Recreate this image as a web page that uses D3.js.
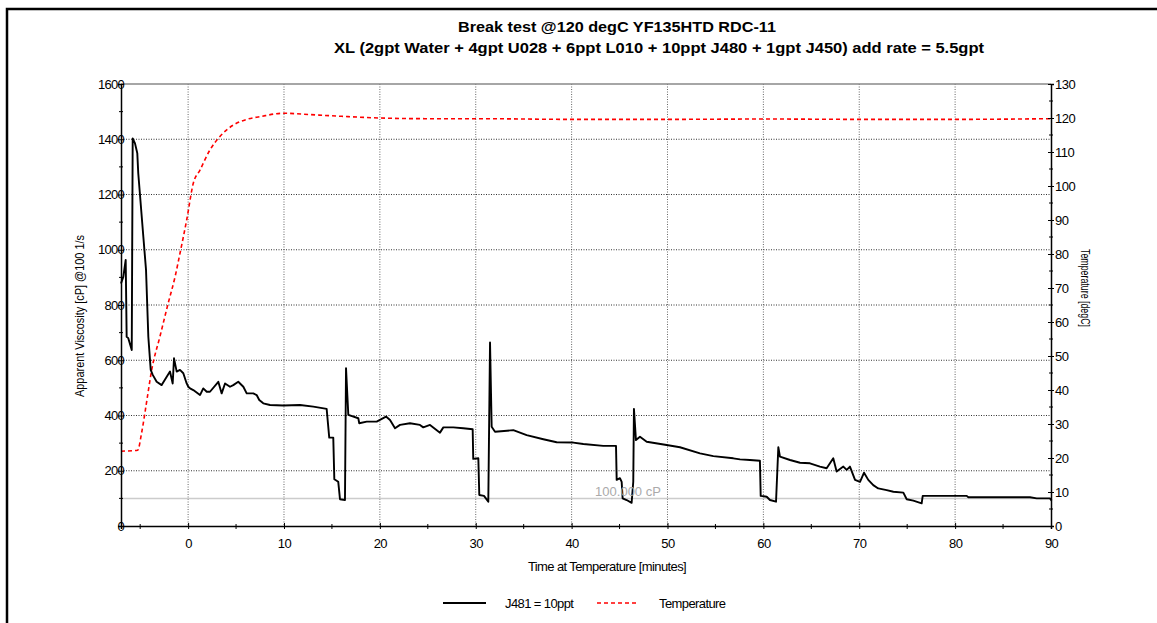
<!DOCTYPE html>
<html><head><meta charset="utf-8">
<script src="https://cdn.jsdelivr.net/npm/d3@7"></script>
<style>
body{margin:0;background:#fff;}
text{font-family:"Liberation Sans",Arial,sans-serif;}
</style></head>
<body><svg id="c" width="1157" height="623"></svg>
<script>
// ---- data ----
const titleLines = ["Break test @120 degC YF135HTD RDC-11",
  "XL (2gpt Water + 4gpt U028 + 6ppt L010 + 10ppt J480 + 1gpt J450) add rate = 5.5gpt"];
const xTicks = [0,10,20,30,40,50,60,70,80,90];
const yLeftTicks = [0,200,400,600,800,1000,1200,1400,1600];
const yRightTicks = [0,10,20,30,40,50,60,70,80,90,100,110,120,130];
const seriesNames = ["J481 = 10ppt","Temperature"];
const refLineValue = 100;
const refLineLabel = "100.000 cP";

// viscosity series [minutes, cP]
const viscTime = [-7,-6.76,-6.51,-6.41,-6.24,-5.88,-5.78,-5.54,-5.3,-5.2,-4.67,-4.39,-4.15,-3.9,-3.69,-3.28,-2.76,-2.23,-1.89,-1.61,-1.47,-1.19,-0.85,-0.5,-0.15,0.02,0.2,0.54,1.24,1.58,1.94,2.28,3.15,3.5,3.85,4.37,4.71,5.23,5.76,6.11,6.8,7.15,7.42,7.84,8.54,9.93,11.67,13.06,14.45,14.72,15.14,15.25,15.66,15.84,16.36,16.47,16.71,17.75,17.85,18.63,19.67,20.64,21.06,21.58,22.1,23.14,24.18,24.53,25.23,26.27,26.62,27.66,28.7,29.68,29.74,30.27,30.37,30.86,31.31,31.49,31.66,32.01,33.92,35.31,37.05,38.44,40.17,41.22,43.3,44.63,44.7,45.04,45.22,45.32,45.74,46.26,46.43,46.5,46.71,47.13,47.83,49.91,51.3,53.39,54.78,56.86,57.56,58.6,59.64,59.72,60.35,60.69,61.32,61.56,61.73,62.78,63.82,64.86,65.9,66.6,67.29,67.64,68.34,68.69,69.03,69.56,70.08,70.5,70.94,71.46,71.98,72.86,73.56,74.6,74.95,75.64,76.51,76.62,81.21,81.38,87.81,88.51,89.89,90.07];
const viscValue = [878,902,963,685,680,637,1403,1385,1349,1277,1047,927,685,565,547,522,510,540,559,516,607,559,565,553,516,504,498,492,474,498,486,486,522,480,516,504,510,522,504,480,480,474,456,444,438,436,438,432,424,320,320,169,160,97,94,571,402,390,372,378,378,396,384,354,366,372,366,357,366,338,357,357,354,350,243,245,112,109,88,664,359,341,347,329,314,303,302,297,290,290,167,173,160,100,94,84,160,424,311,323,305,293,285,263,253,245,241,239,236,109,106,94,88,285,251,239,229,227,215,209,245,197,215,203,215,167,160,193,167,148,136,130,124,121,97,92,82,109,109,104,104,100,100,92];

// temperature series [minutes, degC]
const tempTime = [-7,-5.26,-4.85,-4.3,-3.8,-2.94,-2.07,-1.36,-0.84,-0.15,0.54,1.24,2.28,3.3,4.7,6.1,7.5,9.9,12.7,16,20,25,30,40,50,60,70,80,90];
const tempValue = [22,22.3,27.4,37,45.9,55.7,65.6,73.3,80.3,90,100.8,104.7,110.6,114.5,117.9,119.6,120.4,121.4,121,120.5,120,119.8,119.8,119.6,119.6,119.7,119.6,119.6,119.8];

// ---- drawing ----
const svg = d3.select("#c");
const L=121, R=1051, T=84, B=526;
const x = d3.scaleLinear([-7,90],[L,R]);
const yL = d3.scaleLinear([0,1600],[B,T]);
const yR = d3.scaleLinear([0,130],[B,T]);

// frame
svg.append("path").attr("d","M7,623V9H1157").attr("fill","none").attr("stroke","#000").attr("stroke-width",2.5);

// titles
svg.append("text").attr("x",617).attr("y",32).attr("text-anchor","middle")
  .attr("font-size",14).attr("font-weight","bold").attr("textLength",318).attr("lengthAdjust","spacingAndGlyphs").text(titleLines[0]);
svg.append("text").attr("x",659).attr("y",53).attr("text-anchor","middle")
  .attr("font-size",14).attr("font-weight","bold").attr("textLength",650).attr("lengthAdjust","spacingAndGlyphs").text(titleLines[1]);

// grid
const g = svg.append("g");
g.selectAll(".vg").data(xTicks.filter(d=>d<90)).join("line")
  .attr("x1",d=>x(d)).attr("x2",d=>x(d)).attr("y1",T).attr("y2",B)
  .attr("stroke","#666").attr("stroke-dasharray","1,1.5");
g.selectAll(".hg").data(yLeftTicks.filter(d=>d>0&&d<1600)).join("line")
  .attr("x1",L).attr("x2",R).attr("y1",d=>yL(d)).attr("y2",d=>yL(d))
  .attr("stroke","#333").attr("stroke-dasharray","1,1.5");

// top border of plot
svg.append("line").attr("x1",L).attr("x2",R).attr("y1",T).attr("y2",T).attr("stroke","#888").attr("stroke-width",1.5);

// reference line
svg.append("line").attr("x1",L).attr("x2",R).attr("y1",yL(refLineValue)).attr("y2",yL(refLineValue))
  .attr("stroke","#ccc").attr("stroke-width",1.5);

// series
const viscData = viscTime.map((t,i)=>[t,viscValue[i]]);
const tempData = tempTime.map((t,i)=>[t,tempValue[i]]);
svg.append("path").datum(tempData).attr("fill","none").attr("stroke","#ff0000").attr("stroke-width",1.6)
  .attr("stroke-dasharray","4,3")
  .attr("d",d3.line().x(d=>x(d[0])).y(d=>yR(d[1])).curve(d3.curveMonotoneX));
svg.append("path").datum(viscData).attr("fill","none").attr("stroke","#000").attr("stroke-width",1.9)
  .attr("stroke-linejoin","round")
  .attr("d",d3.line().x(d=>x(d[0])).y(d=>yL(d[1])));

// ref label (drawn over the line)
svg.append("text").attr("x",628).attr("y",496).attr("text-anchor","middle").attr("font-size",13)
  .attr("fill","#aaa").text(refLineLabel);

// axes
const fs = 13;
const axL = svg.append("g").attr("transform",`translate(${L},0)`)
  .call(d3.axisLeft(yL).tickValues(yLeftTicks).tickSize(3).tickFormat(d3.format("d")));
axL.selectAll(".tick line").attr("x1",3);
axL.selectAll(".tick text").attr("x",3).attr("font-size",fs).attr("letter-spacing","-0.7px").attr("fill","#000");
axL.append("g").selectAll("line").data(d3.range(100,1600,200)).join("line")
  .attr("x1",-2).attr("x2",2).attr("y1",d=>yL(d)).attr("y2",d=>yL(d)).attr("stroke","#000");
axL.select(".domain").attr("stroke","#000").attr("stroke-width",1.5);

const axR = svg.append("g").attr("transform",`translate(${R},0)`)
  .call(d3.axisRight(yR).tickValues(yRightTicks).tickSize(3).tickPadding(1).tickFormat(d3.format("d")));
axR.selectAll(".tick line").attr("x1",-3);
axR.selectAll(".tick text").attr("font-size",fs).attr("letter-spacing","-0.5px").attr("fill","#000");
axR.append("g").selectAll("line").data(d3.range(5,130,10)).join("line")
  .attr("x1",-2).attr("x2",2).attr("y1",d=>yR(d)).attr("y2",d=>yR(d)).attr("stroke","#000");
axR.select(".domain").attr("stroke","#000").attr("stroke-width",1.5);

const axB = svg.append("g").attr("transform",`translate(0,${B})`)
  .call(d3.axisBottom(x).tickValues(xTicks).tickSize(3).tickPadding(10).tickFormat(d3.format("d")));
axB.selectAll(".tick line").attr("y1",-3);
axB.selectAll(".tick text").attr("font-size",fs).attr("letter-spacing","-0.6px").attr("fill","#000");
axB.append("g").selectAll("line").data(d3.range(-5,90,10)).join("line")
  .attr("y1",-2).attr("y2",3).attr("x1",d=>x(d)).attr("x2",d=>x(d)).attr("stroke","#000");
axB.select(".domain").attr("stroke","#000").attr("stroke-width",1.5);

// axis titles
svg.append("text").attr("transform","translate(84,316) rotate(-90)").attr("text-anchor","middle")
  .attr("font-size",12.5).attr("textLength",162).attr("lengthAdjust","spacingAndGlyphs").text("Apparent Viscosity [cP] @100 1/s");
svg.append("text").attr("transform","translate(1081,288) rotate(90)").attr("text-anchor","middle")
  .attr("font-size",12.5).attr("textLength",78).attr("lengthAdjust","spacingAndGlyphs").text("Temperature [degC]");
svg.append("text").attr("x",607).attr("y",571).attr("text-anchor","middle")
  .attr("font-size",13).attr("letter-spacing","-0.6px").text("Time at Temperature [minutes]");

// legend
const lg = svg.append("g");
lg.append("line").attr("x1",443).attr("x2",486).attr("y1",603).attr("y2",603).attr("stroke","#000").attr("stroke-width",1.8);
lg.append("text").attr("x",505).attr("y",608).attr("font-size",13).attr("letter-spacing","-0.6px").text(seriesNames[0]);
lg.append("line").attr("x1",597).attr("x2",639).attr("y1",603).attr("y2",603).attr("stroke","#ff0000").attr("stroke-width",1.6).attr("stroke-dasharray","4,3");
lg.append("text").attr("x",659).attr("y",608).attr("font-size",13).attr("letter-spacing","-0.6px").text(seriesNames[1]);
</script></body></html>
